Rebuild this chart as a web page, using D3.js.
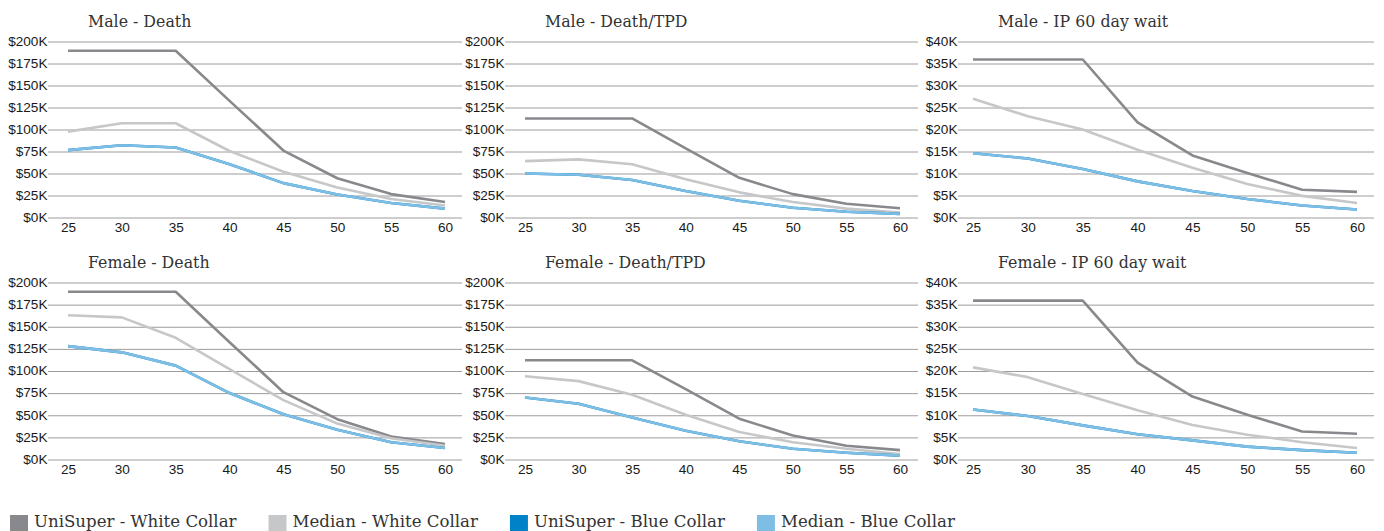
<!DOCTYPE html>
<html><head><meta charset="utf-8">
<script src="https://cdn.jsdelivr.net/npm/d3@7/dist/d3.min.js"></script>
<style>
html,body{margin:0;padding:0;background:#fff;}
svg{display:block;}
</style></head>
<body><svg id="c" width="1384" height="531"></svg>
<script>
// ---- data (values in $K) ----
const ages = [25, 30, 35, 40, 45, 50, 55, 60];
const seriesNames = ["UniSuper - White Collar", "Median - White Collar", "UniSuper - Blue Collar", "Median - Blue Collar"];
const seriesColors = ["#88898c", "#c6c7c9", "#0082c8", "#7fbee4"];
const panelTitles = ["Male - Death", "Male - Death/TPD", "Male - IP 60 day wait", "Female - Death", "Female - Death/TPD", "Female - IP 60 day wait"];
const deathTicks = [0, 25, 50, 75, 100, 125, 150, 175, 200];
const ipTicks = [0, 5, 10, 15, 20, 25, 30, 35, 40];

const maleDeathUniWhite = [189, 189, 189, 132, 75.5, 44, 26, 17];
const maleDeathMedWhite = [97, 106.5, 106.5, 75, 51.5, 33.5, 20.5, 13];
const maleDeathUniBlue = [76, 81.5, 79, 60, 38.5, 25.5, 16, 9.5];
const maleDeathMedBlue = [76, 81.5, 79, 60, 38.5, 25.5, 16, 9.5];

const maleTpdUniWhite = [112, 112, 112, 78, 44.5, 26, 15, 10];
const maleTpdMedWhite = [63.5, 65.5, 60, 43, 28, 17, 9.5, 5.2];
const maleTpdUniBlue = [49.5, 48, 42, 29.5, 18.5, 10.5, 6, 3.5];
const maleTpdMedBlue = [49.5, 48, 42, 29.5, 18.5, 10.5, 6, 3.5];

const maleIpUniWhite = [35.8, 35.8, 35.8, 21.5, 14, 10, 6.2, 5.7];
const maleIpMedWhite = [26.9, 22.9, 19.9, 15.3, 11.2, 7.5, 4.8, 3.2];
const maleIpUniBlue = [14.5, 13.3, 10.9, 8.1, 5.9, 4.1, 2.6, 1.7];
const maleIpMedBlue = [14.5, 13.3, 10.9, 8.1, 5.9, 4.1, 2.6, 1.7];

const femaleDeathUniWhite = [189, 189, 189, 132, 75.5, 45, 25.5, 17];
const femaleDeathMedWhite = [162.5, 160, 137, 101.5, 66.5, 40, 23.5, 15];
const femaleDeathUniBlue = [127.5, 120.5, 105.5, 74.5, 50.5, 33, 19, 12.5];
const femaleDeathMedBlue = [127.5, 120.5, 105.5, 74.5, 50.5, 33, 19, 12.5];

const femaleTpdUniWhite = [111.5, 111.5, 111.5, 79, 45.5, 26.5, 15, 10];
const femaleTpdMedWhite = [93.5, 88, 72.5, 50, 30.5, 19, 11.5, 5.5];
const femaleTpdUniBlue = [69.5, 62.5, 47, 32, 20, 11.5, 7, 3.8];
const femaleTpdMedBlue = [69.5, 62.5, 47, 32, 20, 11.5, 7, 3.8];

const femaleIpUniWhite = [35.8, 35.8, 35.8, 21.8, 14.1, 10, 6.2, 5.7];
const femaleIpMedWhite = [20.7, 18.5, 14.7, 11, 7.7, 5.5, 3.8, 2.5];
const femaleIpUniBlue = [11.2, 9.7, 7.6, 5.6, 4.2, 2.8, 2, 1.4];
const femaleIpMedBlue = [11.2, 9.7, 7.6, 5.6, 4.2, 2.8, 2, 1.4];

const panelSeries = [
  [maleDeathUniWhite, maleDeathMedWhite, maleDeathUniBlue, maleDeathMedBlue],
  [maleTpdUniWhite, maleTpdMedWhite, maleTpdUniBlue, maleTpdMedBlue],
  [maleIpUniWhite, maleIpMedWhite, maleIpUniBlue, maleIpMedBlue],
  [femaleDeathUniWhite, femaleDeathMedWhite, femaleDeathUniBlue, femaleDeathMedBlue],
  [femaleTpdUniWhite, femaleTpdMedWhite, femaleTpdUniBlue, femaleTpdMedBlue],
  [femaleIpUniWhite, femaleIpMedWhite, femaleIpUniBlue, femaleIpMedBlue]
];
const panelTicks = [deathTicks, deathTicks, ipTicks, deathTicks, deathTicks, ipTicks];

// ---- layout ----
const svg = d3.select("#c");
const colX = [[48, 462, 68, 445], [505, 918, 525, 900], [958, 1374, 973, 1357]];
const rowY = [[41, 217, 27], [282, 459, 268]];
const titleOffset = 40;

panelSeries.forEach((series, i) => {
  const col = i % 3, row = Math.floor(i / 3);
  const [gl, gr, pl, pr] = colX[col];
  const [top, bottom, titleY] = rowY[row];
  const ticks = panelTicks[i];
  const x = d3.scalePoint().domain(ages).range([pl, pr]);
  const y = d3.scaleLinear().domain([0, d3.max(ticks)]).range([bottom, top]);
  const g = svg.append("g");

  // y axis + gridlines
  const ya = g.append("g").attr("transform", `translate(${gl},0)`)
    .call(d3.axisLeft(y).tickValues(ticks).tickSizeInner(-(gr - gl)).tickSizeOuter(0).tickPadding(0.5)
      .tickFormat(d => "$" + d + "K"));
  ya.select(".domain").remove();
  ya.selectAll(".tick line").attr("stroke", "#9c9c9c").attr("stroke-width", 1)
    .attr("transform", "translate(0,0.5)");
  ya.selectAll(".tick text").attr("font-family", "'Liberation Sans', Arial, sans-serif")
    .attr("font-size", 13.6).attr("fill", "#1a1a1a");

  // x axis
  const xa = g.append("g").attr("transform", `translate(0,${bottom})`)
    .call(d3.axisBottom(x).tickSize(0).tickPadding(5.5));
  xa.select(".domain").remove();
  xa.selectAll(".tick text").attr("font-family", "'Liberation Sans', Arial, sans-serif")
    .attr("font-size", 13.6).attr("fill", "#1a1a1a");

  // title
  g.append("text").attr("x", gl + titleOffset).attr("y", titleY)
    .attr("font-family", "'DejaVu Serif', serif").attr("font-size", 15.8).attr("fill", "#333")
    .text(panelTitles[i]);

  // lines
  const line = d3.line().x((d, k) => x(ages[k])).y(d => y(d));
  series.forEach((vals, s) => {
    g.append("path").datum(vals).attr("d", line).attr("fill", "none")
      .attr("stroke", seriesColors[s]).attr("stroke-width", 2.6)
      .attr("stroke-linejoin", "round");
  });
});

// ---- legend ----
const legend = svg.append("g");
let lx = 10;
seriesNames.forEach((name, s) => {
  legend.append("rect").attr("x", lx).attr("y", 515).attr("width", 18).attr("height", 18)
    .attr("fill", seriesColors[s]);
  const t = legend.append("text").attr("x", lx + 24).attr("y", 527)
    .attr("font-family", "'DejaVu Serif', serif").attr("font-size", 16.6).attr("fill", "#333")
    .text(name);
  lx = lx + 24 + t.node().getComputedTextLength() + 32;
});
</script>
</body></html>
